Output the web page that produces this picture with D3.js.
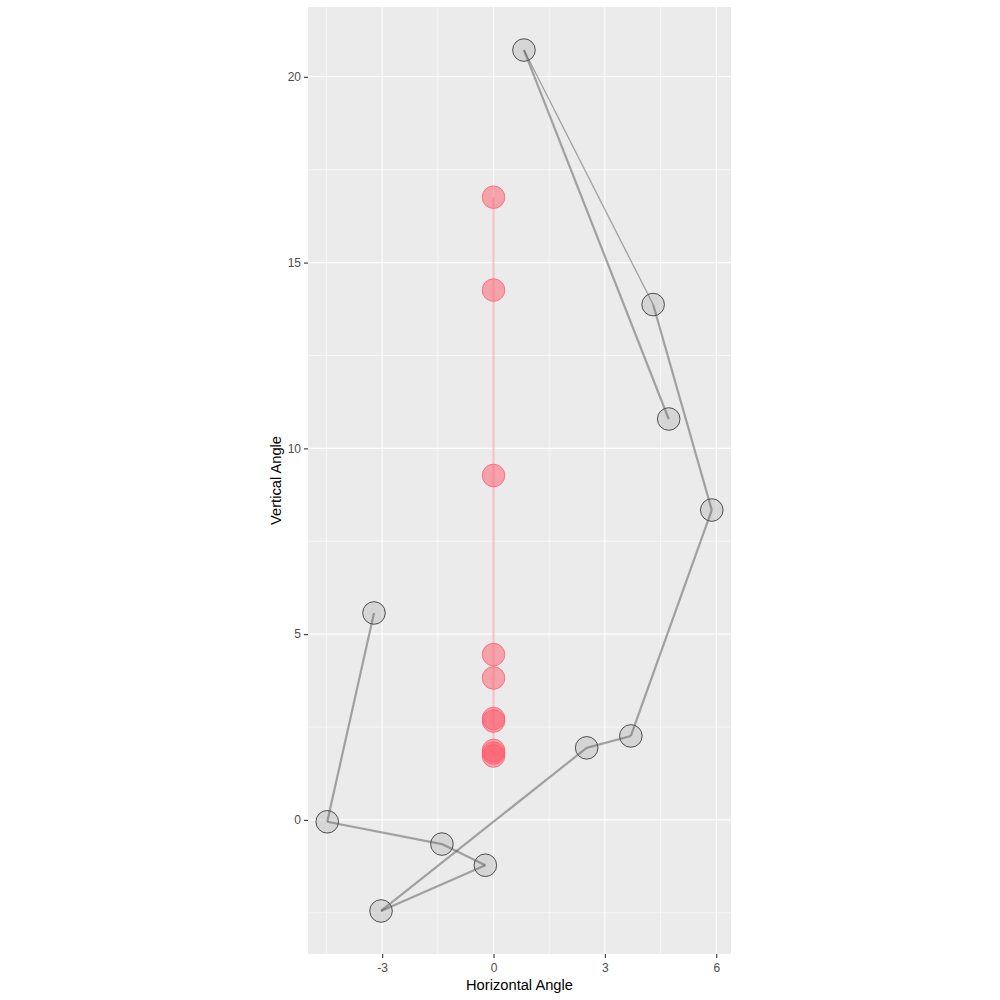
<!DOCTYPE html>
<meta charset="utf-8">
<script src="https://d3js.org/d3.v7.min.js"></script>
<style>
  body { margin: 0; background: #fff; }
  text { font-family: "Liberation Sans", Arial, sans-serif; }
</style>
<svg id="chart" width="1000" height="1000"></svg>
<script>
  // gray trace, in drawing order
  var traceX = [-3.22, -4.48, -1.39, -0.22, -3.03, 2.51, 3.70, 5.88, 4.30, 0.82, 4.72];
  var traceY = [5.57, -0.05, -0.65, -1.22, -2.45, 1.94, 2.26, 8.34, 13.87, 20.72, 10.79];
  // red trace, all at x = 0
  var redX = [0, 0, 0, 0, 0, 0, 0, 0, 0, 0];
  var redY = [16.76, 14.26, 9.27, 4.45, 3.82, 2.73, 2.66, 1.87, 1.80, 1.72];

  var xTicks = [-3, 0, 3, 6];
  var yTicks = [0, 5, 10, 15, 20];
  var xMinor = [-4.5, -1.5, 1.5, 4.5];
  var yMinor = [-2.5, 2.5, 7.5, 12.5, 17.5];

  var svg = d3.select("#chart");
  var panel = { left: 308, right: 731, top: 7, bottom: 954 };

  // ggplot-like 5% expansion
  function expand(vals) {
    var e = d3.extent(vals), pad = (e[1] - e[0]) * 0.05;
    return [e[0] - pad, e[1] + pad];
  }
  var x = d3.scaleLinear().domain(expand(traceX.concat(redX))).range([panel.left, panel.right]);
  var y = d3.scaleLinear().domain(expand(traceY.concat(redY))).range([panel.bottom, panel.top]);

  svg.append("rect")
    .attr("x", panel.left).attr("y", panel.top)
    .attr("width", panel.right - panel.left).attr("height", panel.bottom - panel.top)
    .attr("fill", "#ebebeb");

  var grid = svg.append("g").attr("stroke", "#fff");
  grid.selectAll(".xminor").data(xMinor).enter().append("line")
    .attr("x1", d => x(d)).attr("x2", d => x(d))
    .attr("y1", panel.top).attr("y2", panel.bottom).attr("stroke-width", 0.6);
  grid.selectAll(".yminor").data(yMinor).enter().append("line")
    .attr("y1", d => y(d)).attr("y2", d => y(d))
    .attr("x1", panel.left).attr("x2", panel.right).attr("stroke-width", 0.6);
  grid.selectAll(".xmajor").data(xTicks).enter().append("line")
    .attr("x1", d => x(d)).attr("x2", d => x(d))
    .attr("y1", panel.top).attr("y2", panel.bottom).attr("stroke-width", 1.1);
  grid.selectAll(".ymajor").data(yTicks).enter().append("line")
    .attr("y1", d => y(d)).attr("y2", d => y(d))
    .attr("x1", panel.left).attr("x2", panel.right).attr("stroke-width", 1.1);

  // axes
  var fmt = d => String(d);
  var xAxis = svg.append("g")
    .attr("transform", "translate(0," + panel.bottom + ")")
    .call(d3.axisBottom(x).tickValues(xTicks).tickSize(4).tickPadding(3).tickFormat(fmt));
  var yAxis = svg.append("g")
    .attr("transform", "translate(" + panel.left + ",0)")
    .call(d3.axisLeft(y).tickValues(yTicks).tickSize(4).tickPadding(3).tickFormat(fmt));
  [xAxis, yAxis].forEach(function(a) {
    a.select(".domain").remove();
    a.selectAll(".tick line").attr("stroke", "#333").attr("stroke-width", 1.1);
    a.selectAll(".tick text").attr("fill", "#4d4d4d")
      .style("font-size", "12px").style("font-family", "Liberation Sans, Arial, sans-serif");
  });
  xAxis.selectAll(".tick text").attr("dy", "0.9em");

  svg.append("text")
    .attr("x", (panel.left + panel.right) / 2).attr("y", 990)
    .attr("text-anchor", "middle").style("font-size", "14.7px").attr("fill", "#000")
    .text("Horizontal Angle");
  svg.append("text")
    .attr("transform", "translate(281," + (panel.top + panel.bottom) / 2 + ") rotate(-90)")
    .attr("text-anchor", "middle").style("font-size", "14.7px").attr("fill", "#000")
    .text("Vertical Angle");

  var red = "#ff5a69";
  var gray = traceX.map((d, i) => [d, traceY[i]]);
  var reds = redX.map((d, i) => [d, redY[i]]);

  // points
  svg.append("g").selectAll("circle").data(gray).enter().append("circle")
    .attr("cx", d => x(d[0])).attr("cy", d => y(d[1])).attr("r", 11.3)
    .attr("fill", "#c0c0c0").attr("fill-opacity", 0.5)
    .attr("stroke", "#000").attr("stroke-opacity", 0.65).attr("stroke-width", 1);
  svg.append("g").selectAll("circle").data(reds).enter().append("circle")
    .attr("cx", d => x(d[0])).attr("cy", d => y(d[1])).attr("r", 11.3)
    .attr("fill", red).attr("fill-opacity", 0.5)
    .attr("stroke", red).attr("stroke-opacity", 0.75).attr("stroke-width", 1);

  // paths, drawn segment by segment
  var line = d3.line().x(d => x(d[0])).y(d => y(d[1]));
  var segs = d3.pairs(gray);
  svg.append("g").selectAll("path").data(segs).enter().append("path")
    .attr("d", line)
    .attr("fill", "none").attr("stroke", "#555").attr("stroke-opacity", 0.5)
    .attr("stroke-linejoin", "round")
    .attr("stroke-width", (d, i) => i === 8 ? 1.3 : 2.2);
  svg.append("path").datum(reds)
    .attr("d", line)
    .attr("fill", "none").attr("stroke", red).attr("stroke-opacity", 0.4)
    .attr("stroke-width", 1.8);
</script>
